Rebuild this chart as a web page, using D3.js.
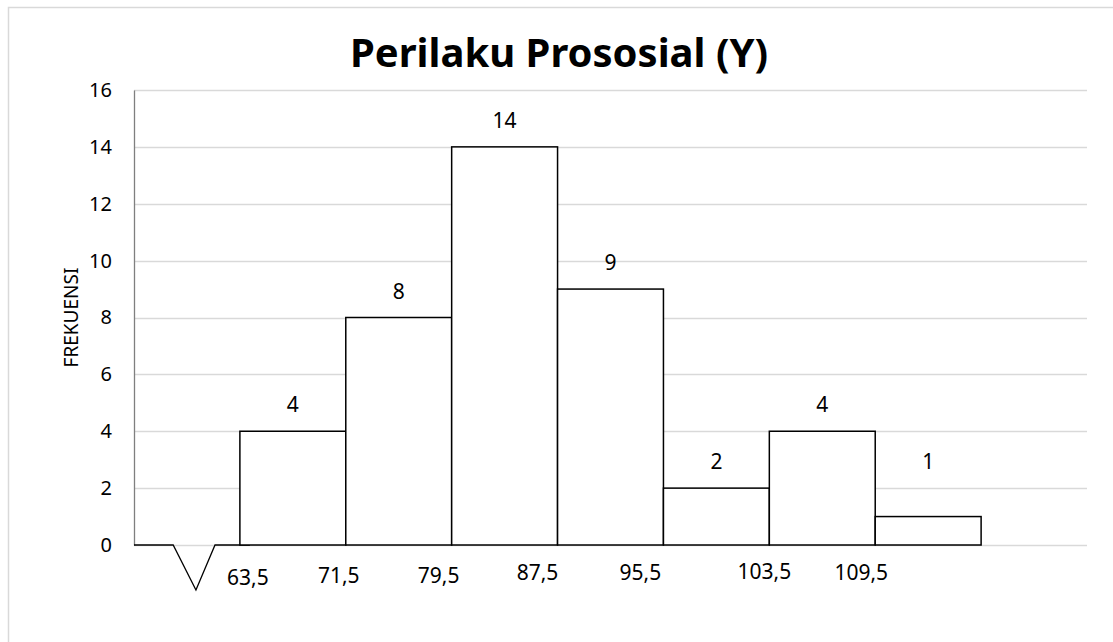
<!DOCTYPE html>
<html>
<head>
<meta charset="utf-8">
<script src="https://cdn.jsdelivr.net/npm/d3@7"></script>
<style>
  html, body { margin: 0; padding: 0; background: #fff; }
  svg { display: block; font-family: "Noto Sans", "Open Sans", sans-serif; }
</style>
</head>
<body>
<svg id="chart" width="1113" height="642"></svg>
<script>
// Frequency distribution of "Perilaku Prososial (Y)" scores
const slots = [0, 1, 2, 3, 4, 5, 6, 7, 8];           // band slots (0 = axis break, 8 = empty)
const binSlots = [1, 2, 3, 4, 5, 6, 7];               // slots that hold a class interval
const frequencies = [4, 8, 14, 9, 2, 4, 1];           // count per class interval
const boundaryLabels = ["63,5", "71,5", "79,5", "87,5", "95,5", "103,5", "109,5"];
const yTicks = [0, 2, 4, 6, 8, 10, 12, 14, 16];

// Layout
const W = 1113, H = 642;
const plot = { left: 134, right: 1087, top: 90, bottom: 545 };
// hand-placed offsets of the boundary labels relative to each bar's left edge
const boundaryNudgeX = [8, -7, -13, -20, -23, -5, -14];
const boundaryY = [577, 575, 575, 572, 572, 571, 572];
// extra lift (in value units) of the value labels
const valueLift = [0, 0, 0, 0, 0, 0, 1];

const svg = d3.select("#chart");

// outer frame
svg.append("rect")
  .attr("x", 8.5).attr("y", 7.5)
  .attr("width", W + 20).attr("height", H + 20)
  .attr("fill", "#fff").attr("stroke", "#d9d9d9").attr("stroke-width", 1.5);

const x = d3.scaleBand().domain(slots).range([plot.left, plot.right]).paddingInner(0).paddingOuter(0);
const y = d3.scaleLinear().domain([0, 16]).range([plot.bottom, plot.top]);

// horizontal gridlines
svg.append("g")
  .selectAll("line").data(yTicks).join("line")
  .attr("x1", plot.left).attr("x2", plot.right)
  .attr("y1", d => Math.round(y(d)) + 0.5).attr("y2", d => Math.round(y(d)) + 0.5)
  .attr("stroke", "#d9d9d9").attr("stroke-width", 1.3);

// y axis
const yAxis = svg.append("g")
  .attr("transform", `translate(${plot.left},0)`)
  .call(d3.axisLeft(y).tickValues(yTicks).tickSize(0).tickPadding(22));
yAxis.select(".domain").attr("stroke", "#7f7f7f").attr("stroke-width", 1.3);
yAxis.selectAll("text")
  .attr("font-size", 20).attr("fill", "#000")
  .attr("font-family", "'Noto Sans', sans-serif");

// axis title
svg.append("text")
  .attr("transform", `translate(71,${(plot.top + plot.bottom) / 2}) rotate(-90)`)
  .attr("text-anchor", "middle").attr("dominant-baseline", "central")
  .attr("font-size", 19).attr("fill", "#000")
  .text("FREKUENSI");

// axis break mark in the first slot
const b0 = x(0), bw = x.bandwidth();
const breakPath = d3.path();
breakPath.moveTo(b0, y(0));
breakPath.lineTo(b0 + bw * 0.37, y(0));
breakPath.lineTo(b0 + bw * 0.585, y(0) + 45);
breakPath.lineTo(b0 + bw * 0.765, y(0));
breakPath.lineTo(x(1) + 10, y(0));
svg.append("path")
  .attr("d", breakPath.toString())
  .attr("fill", "none").attr("stroke", "#000").attr("stroke-width", 1.3);

// histogram bars
svg.append("g")
  .selectAll("rect").data(frequencies).join("rect")
  .attr("x", (d, i) => x(binSlots[i]))
  .attr("y", d => y(d))
  .attr("width", x.bandwidth())
  .attr("height", d => y(0) - y(d))
  .attr("fill", "#fff").attr("stroke", "#000").attr("stroke-width", 1.5);

// value labels
svg.append("g")
  .selectAll("text").data(frequencies).join("text")
  .attr("x", (d, i) => x(binSlots[i]) + x.bandwidth() / 2)
  .attr("y", (d, i) => y(d + valueLift[i]) - 27)
  .attr("text-anchor", "middle").attr("dominant-baseline", "central")
  .attr("font-size", 21).attr("fill", "#000")
  .text(d => d);

// class boundary labels
svg.append("g")
  .selectAll("text").data(boundaryLabels).join("text")
  .attr("x", (d, i) => x(binSlots[i]) + boundaryNudgeX[i])
  .attr("y", (d, i) => boundaryY[i])
  .attr("text-anchor", "middle").attr("dominant-baseline", "central")
  .attr("font-size", 21).attr("fill", "#000")
  .text(d => d);

// chart title
svg.append("text")
  .attr("x", 559).attr("y", 67)
  .attr("text-anchor", "middle")
  .attr("font-size", 40).attr("font-weight", "bold").attr("fill", "#000")
  .text("Perilaku Prososial (Y)");
</script>
</body>
</html>
